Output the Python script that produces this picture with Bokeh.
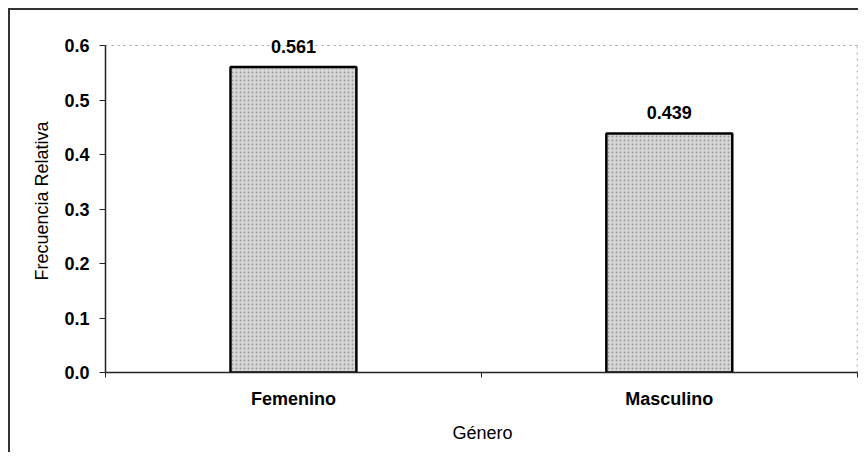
from bokeh.plotting import figure
from bokeh.models import Range1d, FixedTicker, ColumnDataSource, NumeralTickFormatter, LabelSet
from bokeh.core.properties import value
from bokeh.embed import file_html
from bokeh.resources import INLINE

categories = ["Femenino", "Masculino"]
frecuencias = [0.561, 0.439]
value_labels = ["0.561", "0.439"]
y_ticks = [0.0, 0.1, 0.2, 0.3, 0.4, 0.5, 0.6]
x_title = "Género"
y_title = "Frecuencia Relativa"

FONT = "Liberation Sans"

n = len(categories)
ymax = y_ticks[-1]
xs = [i + 0.5 for i in range(n)]
bounds = [float(i) for i in range(n + 1)]
src = ColumnDataSource(dict(x=xs, top=frecuencias, label=value_labels))

# extra head-room above 0.6 so the value label over the tallest bar is not clipped
p = figure(width=850, height=444, output_backend="svg", toolbar_location=None,
           x_range=Range1d(0, n * 1.003), y_range=Range1d(0, 0.63),
           min_border_left=95, min_border_right=1, min_border_top=19, min_border_bottom=82,
           background_fill_color="white", border_fill_color="white")
p.styles = {"margin-left": "8px", "margin-top": "8px",
            "border-top": "2px solid #333333", "border-left": "2px solid #333333"}
p.outline_line_color = None

# dotted plot-area border (top at 0.6 and right edge)
p.xgrid.visible = False
p.ygrid.ticker = FixedTicker(ticks=[ymax])
p.ygrid.grid_line_color = "#a0a0a0"
p.ygrid.grid_line_dash = "dotted"
p.ygrid.grid_line_width = 1
p.segment(x0=[n], y0=[0], x1=[n], y1=[ymax], line_color="#a0a0a0",
          line_dash="dotted", line_width=1)

p.vbar(x="x", top="top", bottom=0, width=0.335, source=src,
       fill_color="#d6d6d6", line_color="black", line_width=2.5,
       hatch_pattern="dot", hatch_color="#9a9a9a", hatch_scale=4, hatch_weight=1)

labels = LabelSet(x="x", y="top", text="label", source=src, text_align="center",
                  text_baseline="bottom", y_offset=14, text_font=value(FONT),
                  text_font_style="bold", text_font_size="18px", text_color="black")
p.add_layout(labels)

# x axis: labels at category centres, tick marks at category boundaries
p.xaxis.ticker = FixedTicker(ticks=xs, minor_ticks=bounds)
p.xaxis.bounds = (0, n)
p.xaxis.major_label_overrides = {xv: c for xv, c in zip(xs, categories)}
p.xaxis.major_tick_out = 0
p.xaxis.major_tick_in = 0
p.xaxis.minor_tick_line_color = "#222222"
p.xaxis.minor_tick_out = 5
p.xaxis.minor_tick_in = 0
p.xaxis.major_label_standoff = 11
p.xaxis.axis_label = x_title
p.xaxis.axis_label_standoff = 11

p.yaxis.ticker = FixedTicker(ticks=y_ticks)
p.yaxis.bounds = (0, ymax)
p.yaxis.formatter = NumeralTickFormatter(format="0.0")
p.yaxis.major_tick_out = 6
p.yaxis.major_tick_in = 0
p.yaxis.minor_tick_line_color = None
p.yaxis.major_label_standoff = 10
p.yaxis.axis_label = y_title
p.yaxis.axis_label_standoff = 9

for ax in (p.xaxis[0], p.yaxis[0]):
    ax.axis_line_color = "#222222"
    ax.axis_line_width = 1.5
    ax.major_tick_line_color = "#222222" if ax is p.yaxis[0] else None
    ax.major_label_text_font = FONT
    ax.major_label_text_font_style = "bold"
    ax.major_label_text_font_size = "18px"
    ax.major_label_text_color = "black"
    ax.axis_label_text_font = FONT
    ax.axis_label_text_font_style = "normal"
    ax.axis_label_text_font_size = "18px"
    ax.axis_label_text_color = "black"

open("out.html", "w").write(file_html(p, INLINE))
